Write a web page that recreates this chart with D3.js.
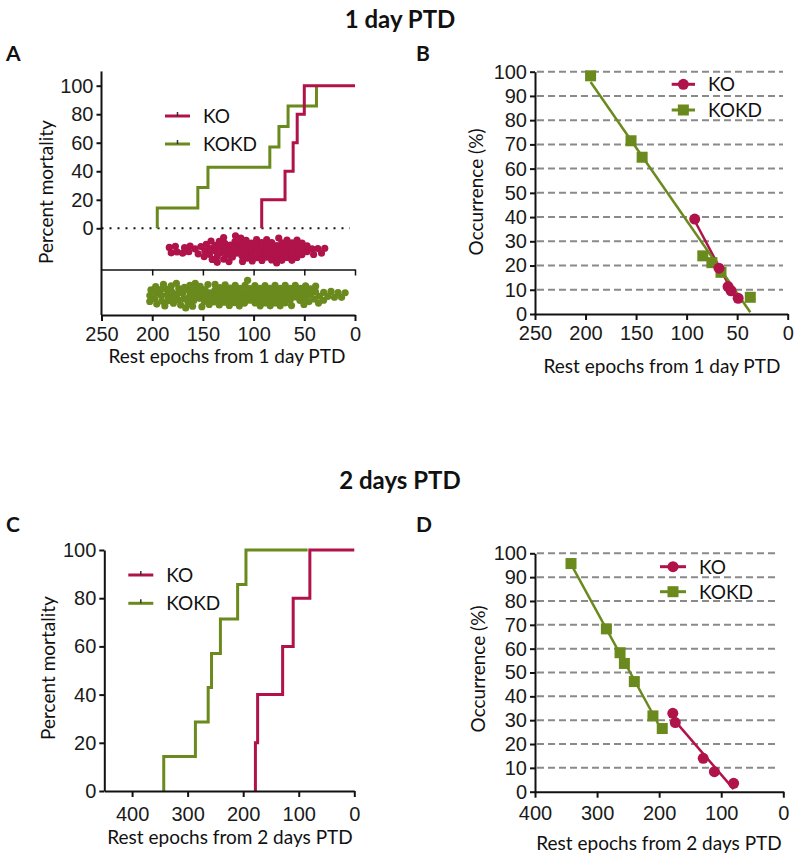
<!DOCTYPE html>
<html>
<head>
<meta charset="utf-8">
<script src="https://d3js.org/d3.v7.min.js"></script>
<style>
body { margin: 0; background: #fff; }
svg { font-family: Lato, "Open Sans", sans-serif; }
</style>
</head>
<body>
<svg width="800" height="863"></svg>
<script>
// ---- data ----
// A: cumulative mortality (1 day PTD)
const koTimesA = [92, 69, 61, 57, 50];
const koPctA = [20, 40, 60, 80, 100];
const kokdTimesA = [195, 155, 145, 84, 75, 66, 38];
const kokdPctA = [14.3, 28.6, 42.9, 57.1, 71.4, 85.7, 100];
const koEndA = 0, kokdEndA = 38;

// A: rest epochs, one dot each
const koEpochsA = [183, 181, 177, 175, 171, 168, 164, 162, 158, 155, 151, 148, 146, 145, 144, 142,
    141, 140, 139, 138, 136, 135, 134, 133, 131, 130, 129, 128, 127, 125, 124, 123, 122, 120, 119,
    118, 117, 116, 114, 113, 112, 111, 110, 108, 107, 106, 105, 104, 103, 101, 100, 99, 98, 96, 95,
    94, 93, 92, 90, 89, 88, 87, 86, 84, 83, 82, 81, 80, 78, 77, 76, 75, 74, 72, 71, 70, 69, 68, 66,
    65, 64, 63, 62, 60, 59, 58, 57, 56, 54, 53, 52, 49, 47, 43, 41, 37, 33, 30];
const kokdEpochsA = [202, 201, 200, 198, 197, 196, 195, 193, 191, 190, 189, 187, 186, 185, 184, 182,
    180, 179, 178, 177, 176, 174, 173, 172, 170, 169, 168, 167, 166, 164, 163, 162, 160, 159, 158,
    157, 156, 154, 153, 152, 150, 149, 148, 147, 146, 144, 143, 142, 140, 139, 138, 137, 136, 134,
    133, 132, 130, 129, 128, 127, 126, 124, 123, 122, 120, 119, 118, 117, 116, 114, 113, 112, 110,
    109, 108, 107, 106, 104, 103, 102, 100, 99, 98, 97, 96, 94, 93, 92, 90, 89, 88, 87, 86, 84, 83,
    82, 80, 79, 78, 77, 76, 74, 73, 72, 70, 69, 68, 67, 66, 64, 63, 62, 60, 59, 58, 56, 55, 54, 52,
    51, 50, 48, 46, 45, 43, 41, 40, 38, 36, 35, 33, 31, 27, 24, 20, 17, 13, 10];

// B: occurrence vs rest epochs (1 day PTD)
const koXB = [92, 68, 59, 56, 49];
const koYB = [39.2, 18.9, 11.3, 9.6, 6.5];
const kokdXB = [195, 155, 144, 84, 75, 66, 37];
const kokdYB = [98.3, 71.5, 64.7, 24, 21.2, 17.2, 6.9];

// C: cumulative mortality (2 days PTD)
const koTimesC = [178, 174, 129, 110, 80];
const koPctC = [20, 40, 60, 80, 100];
const kokdTimesC = [343, 286, 263, 257, 241, 210, 195];
const kokdPctC = [14.3, 28.6, 42.9, 57.1, 71.4, 85.7, 100];
const koEndC = 0, kokdEndC = 84;

// D: occurrence vs rest epochs (2 days PTD)
const koXD = [178, 174, 129, 111, 80];
const koYD = [32.9, 29, 14, 8.4, 3.5];
const kokdXD = [342, 285, 263, 256, 240, 210, 195];
const kokdYD = [95.7, 68.3, 58.3, 53.8, 46.2, 31.8, 26.5];

const ticks1 = [250, 200, 150, 100, 50, 0];
const ticks2 = [400, 300, 200, 100, 0];
const mortTicks = [0, 20, 40, 60, 80, 100];
const occTicks = [0, 10, 20, 30, 40, 50, 60, 70, 80, 90, 100];

const koColor = "#b0124a";
const kokdColor = "#6a8a1e";
const ink = "#111";

const svg = d3.select("svg");

// helpers
function styleAxis(g, size) {
    g.selectAll("path, line").attr("stroke", ink).attr("stroke-width", 2);
    g.selectAll("text").attr("font-size", size || "20px").attr("fill", "#1a1a1a");
}

function kmPoints(times, pcts, end) {
    const pts = [{t: times[0], p: 0}];
    times.forEach((t, i) => pts.push({t: t, p: pcts[i]}));
    pts.push({t: end, p: pcts[pcts.length - 1]});
    return pts;
}

function fit(xs, ys) {
    const mx = d3.mean(xs), my = d3.mean(ys);
    const sxy = d3.sum(xs, (x, i) => (x - mx) * (ys[i] - my));
    const sxx = d3.sum(xs, x => (x - mx) * (x - mx));
    const b = sxy / sxx;
    return x => my + b * (x - mx);
}

function label(text, x, y, opts) {
    const t = svg.append("text")
        .attr("x", x)
        .attr("y", y)
        .attr("font-size", opts.size)
        .attr("font-weight", opts.bold ? "bold" : "normal")
        .attr("text-anchor", opts.anchor || "middle")
        .attr("fill", "#111")
        .text(text);
    if (opts.rotate) {
        t.attr("transform", `rotate(-90, ${x}, ${y})`).attr("dominant-baseline", "central");
    }
    return t;
}

function legendRow(x0, x1, y, color, text, marker) {
    svg.append("line")
        .attr("x1", x0).attr("x2", x1)
        .attr("y1", y).attr("y2", y)
        .attr("stroke", color)
        .attr("stroke-width", 3);
    const cx = (x0 + x1) / 2;
    if (marker === "circle") {
        svg.append("circle").attr("cx", cx).attr("cy", y).attr("r", 5.5).attr("fill", color);
    } else if (marker === "square") {
        svg.append("rect").attr("x", cx - 5.5).attr("y", y - 5.5)
            .attr("width", 11).attr("height", 11).attr("fill", color);
    } else {
        // censor tick
        svg.append("line")
            .attr("x1", cx).attr("x2", cx)
            .attr("y1", y - 4).attr("y2", y)
            .attr("stroke", "#333")
            .attr("stroke-width", 1.5);
    }
    svg.append("text")
        .attr("x", x1 + 13)
        .attr("y", y)
        .attr("dy", "0.36em")
        .attr("font-size", "19px")
        .attr("fill", "#111")
        .text(text);
}

// titles
label("1 day PTD", 400, 28, {size: "24px", bold: true});
label("2 days PTD", 400, 489, {size: "24px", bold: true});
label("A", 6, 61, {size: "21px", bold: true, anchor: "start"});
label("B", 416, 61, {size: "21px", bold: true, anchor: "start"});
label("C", 6, 532, {size: "21px", bold: true, anchor: "start"});
label("D", 416, 532, {size: "21px", bold: true, anchor: "start"});

// ================= panel A =================
const xA = d3.scaleLinear().domain([250, 0]).range([101.5, 355]);
const yA = d3.scaleLinear().domain([0, 100]).range([228.3, 85.7]);
const axisYA = 315, sepYA = 269.5;

// dotted zero line
svg.append("line")
    .attr("x1", xA(250)).attr("x2", xA(5))
    .attr("y1", yA(0)).attr("y2", yA(0))
    .attr("stroke", ink)
    .attr("stroke-width", 2)
    .attr("stroke-dasharray", "2,6");

// KM steps
const kmLine = (x, y) => d3.line()
    .x(d => x(d.t))
    .y(d => y(d.p))
    .curve(d3.curveStepAfter);

svg.append("path")
    .attr("d", kmLine(xA, yA)(kmPoints(kokdTimesA, kokdPctA, kokdEndA)))
    .attr("fill", "none")
    .attr("stroke", kokdColor)
    .attr("stroke-width", 3);
svg.append("path")
    .attr("d", kmLine(xA, yA)(kmPoints(koTimesA, koPctA, koEndA)))
    .attr("fill", "none")
    .attr("stroke", koColor)
    .attr("stroke-width", 3);

// Y ticks
const gYA = svg.append("g")
    .attr("transform", `translate(${xA(250)}, 0)`)
    .call(d3.axisLeft(yA).tickValues(mortTicks).tickSize(5).tickPadding(3).tickSizeOuter(0));
gYA.select(".domain").remove();
styleAxis(gYA);
svg.append("line")
    .attr("x1", xA(250)).attr("x2", xA(250))
    .attr("y1", yA(110)).attr("y2", axisYA)
    .attr("stroke", ink).attr("stroke-width", 2);

// separator between strips
const gSep = svg.append("g")
    .attr("transform", `translate(0, ${sepYA})`)
    .call(d3.axisBottom(xA).tickValues([200, 150, 100, 50, 0]).tickFormat("").tickSize(6).tickSizeOuter(0));
gSep.selectAll("path, line").attr("stroke", ink).attr("stroke-width", 1.5);

// X ticks
const gXA = svg.append("g")
    .attr("transform", `translate(0, ${axisYA})`)
    .call(d3.axisBottom(xA).tickValues(ticks1).tickSize(6).tickPadding(6).tickSizeOuter(0));
styleAxis(gXA);

// rest epoch dots (beeswarm)
function swarm(values, x, cy, color) {
    const nodes = values.map(v => ({tx: x(v), x: x(v), y: cy}));
    d3.forceSimulation(nodes)
        .force("x", d3.forceX(d => d.tx).strength(1))
        .force("y", d3.forceY(cy).strength(0.15))
        .force("collide", d3.forceCollide(2.9))
        .stop()
        .tick(300);
    svg.append("g").selectAll("circle")
        .data(nodes)
        .enter().append("circle")
        .attr("cx", d => d.x)
        .attr("cy", d => d.y)
        .attr("r", 3.6)
        .attr("fill", color);
}
swarm(koEpochsA, xA, 250, koColor);
swarm(kokdEpochsA, xA, 295, kokdColor);

legendRow(165, 190, 116, koColor, "KO");
legendRow(165, 190, 144, kokdColor, "KOKD");

label("Percent mortality", 45, 192, {size: "19px", rotate: true});
label("Rest epochs from 1 day PTD", 227, 363, {size: "19px"});

// ================= panel B / D (occurrence) =================
function occurrence(opts) {
    const x = d3.scaleLinear().domain(opts.xDomain).range(opts.xRange);
    const y = d3.scaleLinear().domain([0, 100]).range(opts.yRange);

    // dashed grid
    svg.append("g").selectAll("line")
        .data(occTicks.slice(1))
        .enter().append("line")
        .attr("x1", opts.xRange[0] + 2)
        .attr("x2", opts.gridEnd)
        .attr("y1", d => y(d))
        .attr("y2", d => y(d))
        .attr("stroke", "#8a8a8a")
        .attr("stroke-width", 2)
        .attr("stroke-dasharray", "7,4");

    // regression lines
    [[opts.koX, opts.koY, koColor], [opts.kokdX, opts.kokdY, kokdColor]].forEach(([xs, ys, c]) => {
        const f = fit(xs, ys);
        const ext = d3.extent(xs);
        svg.append("line")
            .attr("x1", x(ext[0])).attr("y1", y(f(ext[0])))
            .attr("x2", x(ext[1])).attr("y2", y(f(ext[1])))
            .attr("stroke", c)
            .attr("stroke-width", 2.5);
    });

    svg.append("g").selectAll("rect")
        .data(opts.kokdX)
        .enter().append("rect")
        .attr("x", d => x(d) - 5.5)
        .attr("y", (d, i) => y(opts.kokdY[i]) - 5.5)
        .attr("width", 11)
        .attr("height", 11)
        .attr("fill", kokdColor);
    svg.append("g").selectAll("circle")
        .data(opts.koX)
        .enter().append("circle")
        .attr("cx", d => x(d))
        .attr("cy", (d, i) => y(opts.koY[i]))
        .attr("r", 5.5)
        .attr("fill", koColor);

    const gy = svg.append("g")
        .attr("transform", `translate(${opts.xRange[0]}, 0)`)
        .call(d3.axisLeft(y).tickValues(occTicks).tickSize(5).tickPadding(3).tickSizeOuter(0));
    styleAxis(gy);
    const gx = svg.append("g")
        .attr("transform", `translate(0, ${opts.yRange[0]})`)
        .call(d3.axisBottom(x).tickValues(opts.ticks).tickSize(6).tickPadding(opts.pad).tickSizeOuter(0));
    styleAxis(gx);
}

occurrence({
    xDomain: [250, 0], xRange: [535, 787.7], yRange: [314, 71.7], gridEnd: 783,
    koX: koXB, koY: koYB, kokdX: kokdXB, kokdY: kokdYB, ticks: ticks1, pad: 6
});
legendRow(671.7, 695, 84.3, koColor, "KO", "circle");
legendRow(671.7, 695, 110, kokdColor, "KOKD", "square");
label("Occurrence (%)", 475, 192, {size: "19px", rotate: true});
label("Rest epochs from 1 day PTD", 662, 373, {size: "19px"});

occurrence({
    xDomain: [400, 0], xRange: [535, 783.3], yRange: [791.7, 553.3], gridEnd: 778,
    koX: koXD, koY: koYD, kokdX: kokdXD, kokdY: kokdYD, ticks: ticks2, pad: 8
});
legendRow(660, 686, 566.7, koColor, "KO", "circle");
legendRow(660, 686, 591.7, kokdColor, "KOKD", "square");
label("Occurrence (%)", 477, 669, {size: "19px", rotate: true});
label("Rest epochs from 2 days PTD", 659, 850, {size: "19px"});

// ================= panel C =================
const xC = d3.scaleLinear().domain([450, 0]).range([104.3, 354.3]);
const yC = d3.scaleLinear().domain([0, 100]).range([791, 550]);

svg.append("path")
    .attr("d", kmLine(xC, yC)(kmPoints(kokdTimesC, kokdPctC, kokdEndC)))
    .attr("fill", "none")
    .attr("stroke", kokdColor)
    .attr("stroke-width", 3);
svg.append("path")
    .attr("d", kmLine(xC, yC)(kmPoints(koTimesC, koPctC, koEndC)))
    .attr("fill", "none")
    .attr("stroke", koColor)
    .attr("stroke-width", 3);

const gYC = svg.append("g")
    .attr("transform", `translate(${xC(450)}, 0)`)
    .call(d3.axisLeft(yC).tickValues(mortTicks).tickSize(5).tickPadding(3).tickSizeOuter(0));
styleAxis(gYC);
const gXC = svg.append("g")
    .attr("transform", `translate(0, ${yC(0)})`)
    .call(d3.axisBottom(xC).tickValues(ticks2).tickSize(6).tickPadding(10).tickSizeOuter(0));
styleAxis(gXC);

legendRow(128.3, 153.3, 575, koColor, "KO");
legendRow(128.3, 153.3, 603.3, kokdColor, "KOKD");
label("Percent mortality", 47, 668, {size: "19px", rotate: true});
label("Rest epochs from 2 days PTD", 230, 844, {size: "19px"});
</script>
</body>
</html>
